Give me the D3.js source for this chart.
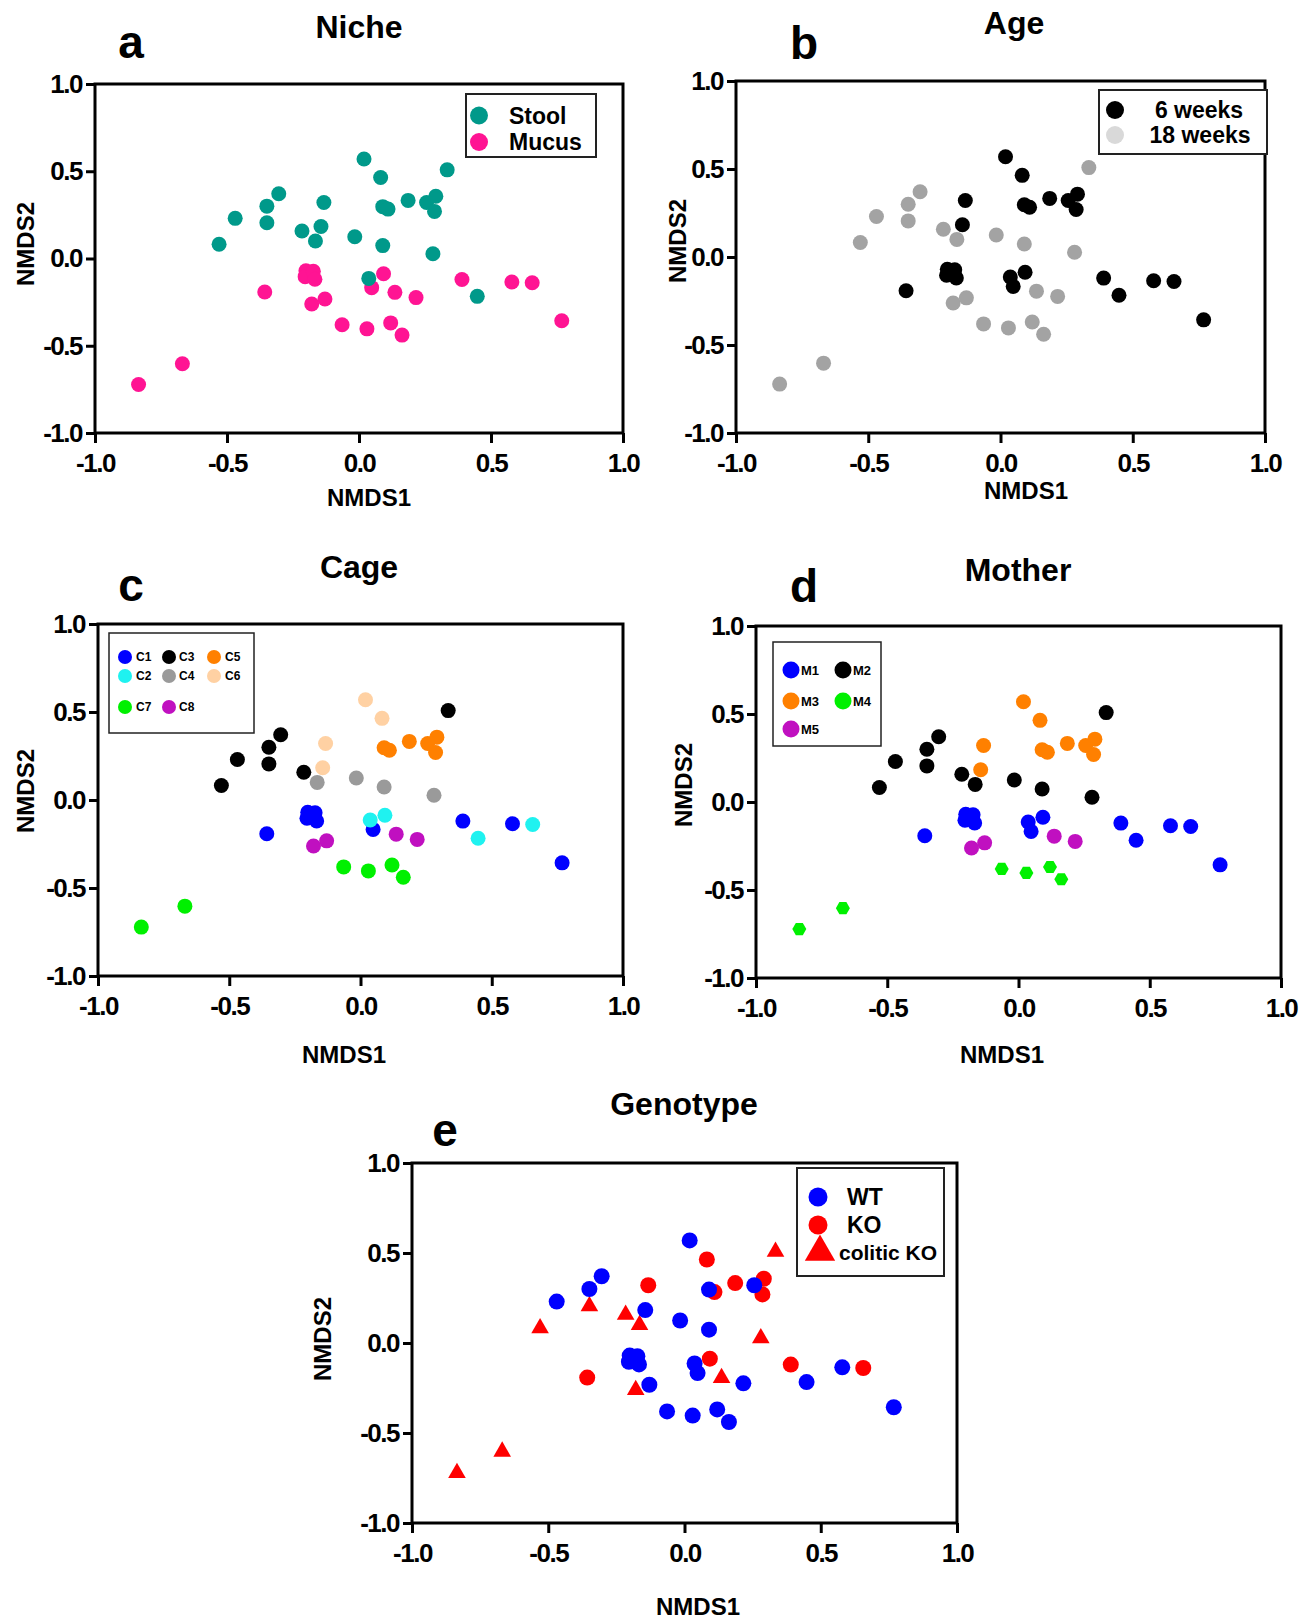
<!DOCTYPE html>
<html>
<head>
<meta charset="utf-8">
<script src="https://cdn.jsdelivr.net/npm/d3@7"></script>
<style>
  body { margin: 0; background: #fff; }
  text { font-family: "Liberation Sans", Arial, sans-serif; font-weight: bold; fill: #000; }
</style>
</head>
<body>
<svg id="fig" width="1316" height="1620"></svg>
<script>
// NMDS coordinates: 23 stool samples, then 21 mucus samples
var nmds1 = [-0.53, -0.469, -0.349, -0.349, -0.304, -0.216, -0.165, -0.144, -0.133, -0.016, 0.019, 0.082,
  0.09, 0.11, 0.09, 0.186, 0.256, 0.291, 0.286, 0.28, 0.334, 0.037, 0.448,
  -0.835, -0.669, -0.357, -0.201, -0.204, -0.173, -0.167, -0.179, -0.129, -0.064, 0.03, 0.048,
  0.093, 0.12, 0.136, 0.163, 0.216, 0.39, 0.579, 0.656, 0.768];
var nmds2 = [0.082, 0.23, 0.30, 0.205, 0.371, 0.158, 0.10, 0.183, 0.321, 0.125, 0.57, 0.464,
  0.297, 0.283, 0.074, 0.333, 0.321, 0.357, 0.27, 0.027, 0.508, -0.114, -0.217,
  -0.722, -0.603, -0.192, -0.07, -0.104, -0.073, -0.119, -0.261, -0.232, -0.38, -0.403, -0.167,
  -0.087, -0.369, -0.194, -0.439, -0.224, -0.12, -0.135, -0.139, -0.357];

var niche = ["Stool","Stool","Stool","Stool","Stool","Stool","Stool","Stool","Stool","Stool","Stool","Stool",
  "Stool","Stool","Stool","Stool","Stool","Stool","Stool","Stool","Stool","Stool","Stool",
  "Mucus","Mucus","Mucus","Mucus","Mucus","Mucus","Mucus","Mucus","Mucus","Mucus","Mucus","Mucus",
  "Mucus","Mucus","Mucus","Mucus","Mucus","Mucus","Mucus","Mucus","Mucus"];
var age = ["18 weeks","18 weeks","18 weeks","18 weeks","18 weeks","18 weeks","18 weeks","6 weeks","6 weeks","18 weeks","6 weeks","6 weeks",
  "6 weeks","6 weeks","18 weeks","6 weeks","6 weeks","6 weeks","6 weeks","18 weeks","18 weeks","6 weeks","6 weeks",
  "18 weeks","18 weeks","6 weeks","6 weeks","6 weeks","6 weeks","6 weeks","18 weeks","18 weeks","18 weeks","18 weeks","6 weeks",
  "6 weeks","18 weeks","18 weeks","18 weeks","18 weeks","6 weeks","6 weeks","6 weeks","6 weeks"];
var cage = ["C3","C3","C3","C3","C3","C3","C4","C6","C6","C4","C6","C6",
  "C5","C5","C4","C5","C5","C5","C5","C4","C3","C2","C2",
  "C7","C7","C1","C1","C1","C1","C1","C8","C8","C7","C7","C1",
  "C2","C7","C8","C7","C8","C1","C1","C2","C1"];
var mother = ["M2","M2","M2","M2","M2","M2","M2","M3","M3","M2","M3","M3",
  "M3","M3","M2","M3","M3","M3","M3","M2","M2","M1","M1",
  "M4","M4","M1","M1","M1","M1","M1","M5","M5","M4","M4","M1",
  "M1","M4","M5","M4","M5","M1","M1","M1","M1"];
var genotype = ["colitic KO","WT","WT","colitic KO","WT","colitic KO","colitic KO","WT","KO","WT","WT","KO",
  "WT","KO","WT","KO","WT","KO","KO","colitic KO","colitic KO","WT","WT",
  "colitic KO","colitic KO","KO","WT","WT","WT","WT","colitic KO","WT","WT","WT","WT",
  "KO","WT","colitic KO","WT","WT","KO","WT","KO","WT"];

var tickValues = [-1, -0.5, 0, 0.5, 1];
var tickLabels = ["-1.0", "-0.5", "0.0", "0.5", "1.0"];

var svg = d3.select("#fig");

function hexPath(r) {
  var pts = d3.range(6).map(function (k) {
    var a = Math.PI / 3 * k;
    return [r * Math.cos(a), r * Math.sin(a)];
  });
  return d3.line()(pts) + "Z";
}

function marker(g, shape, color, r) {
  if (shape === "triangle") {
    g.append("path").attr("d", d3.symbol(d3.symbolTriangle, r * r * 2.1)()).attr("fill", color);
  } else if (shape === "hexagon") {
    g.append("path").attr("d", hexPath(r)).attr("fill", color);
  } else {
    g.append("circle").attr("r", r).attr("fill", color);
  }
}

function panel(p) {
  var x = d3.scaleLinear().domain([-1, 1]).range([p.box[0], p.box[2]]);
  var y = d3.scaleLinear().domain([-1, 1]).range([p.box[3], p.box[1]]);

  svg.append("text").attr("x", p.title[1]).attr("y", p.title[2])
    .attr("text-anchor", "middle").style("font-size", "32px").text(p.title[0]);
  svg.append("text").attr("x", p.letter[1]).attr("y", p.letter[2])
    .attr("text-anchor", "middle").style("font-size", "46px").text(p.letter[0]);

  svg.append("rect")
    .attr("x", p.box[0]).attr("y", p.box[1])
    .attr("width", p.box[2] - p.box[0]).attr("height", p.box[3] - p.box[1])
    .attr("fill", "none").attr("stroke", "#000").attr("stroke-width", 3);

  var xAxis = d3.axisBottom(x).tickValues(tickValues).tickSize(10).tickPadding(11)
    .tickFormat(function (d, i) { return tickLabels[i]; });
  var yAxis = d3.axisLeft(y).tickValues(tickValues).tickSize(9).tickPadding(4)
    .tickFormat(function (d, i) { return tickLabels[i]; });

  var gx = svg.append("g").attr("transform", "translate(0," + p.box[3] + ")").call(xAxis);
  var gy = svg.append("g").attr("transform", "translate(" + p.box[0] + ",0)").call(yAxis);
  [gx, gy].forEach(function (g) {
    g.select(".domain").remove();
    g.selectAll(".tick line").attr("stroke", "#000").attr("stroke-width", 3);
    g.selectAll(".tick text").attr("fill", "#000")
      .style("font-size", "26px").style("font-family", "'Liberation Sans', Arial, sans-serif")
      .style("font-weight", "bold").style("letter-spacing", "-1.5px");
  });

  svg.append("text").attr("x", p.xTitle[0]).attr("y", p.xTitle[1]).attr("dy", "0.35em")
    .attr("text-anchor", "middle").style("font-size", "24px").text("NMDS1");
  svg.append("text").attr("transform", "translate(" + p.yTitle[0] + "," + p.yTitle[1] + ") rotate(-90)")
    .attr("dy", "0.35em").attr("text-anchor", "middle").style("font-size", "24px").text("NMDS2");

  // points, drawn series by series
  p.order.forEach(function (key) {
    d3.range(nmds1.length).forEach(function (i) {
      if (p.groups[i] !== key) return;
      var g = svg.append("g")
        .attr("transform", "translate(" + x(nmds1[i]) + "," + y(nmds2[i]) + ")");
      marker(g, p.shapes[key] || "circle", p.colors[key], p.shapes[key] === "hexagon" ? 7 : p.r);
    });
  });

  // legend
  var L = p.legend;
  svg.append("rect").attr("x", L.box[0]).attr("y", L.box[1])
    .attr("width", L.box[2] - L.box[0]).attr("height", L.box[3] - L.box[1])
    .attr("fill", "#fff").attr("stroke", L.stroke || "#222").attr("stroke-width", L.sw || 2);
  L.items.forEach(function (it) {
    var g = svg.append("g").attr("transform", "translate(" + it[1] + "," + it[2] + ")");
    var shape = p.shapes[it[0]] === "triangle" ? "triangle" : "circle";
    marker(g, shape, (L.colors && L.colors[it[0]]) || p.colors[it[0]], shape === "triangle" ? L.r * 1.45 : L.r);
    svg.append("text").attr("x", it[3]).attr("y", it[2]).attr("dy", "0.36em")
      .attr("text-anchor", L.anchor || "start")
      .style("font-size", (it[4] || L.fs) + "px").text(it[0]);
  });
}

panel({
  box: [95, 84, 623, 433], r: 7.5,
  title: ["Niche", 359, 38], letter: ["a", 131, 58],
  xTitle: [369, 498], yTitle: [26, 244],
  groups: niche, order: ["Mucus", "Stool"],
  colors: { "Stool": "#00998a", "Mucus": "#ff1493" }, shapes: {},
  legend: { box: [466, 94, 596, 157], r: 9, fs: 23,
    items: [["Stool", 479, 115.5, 509], ["Mucus", 479, 142, 509]] }
});

panel({
  box: [736, 81, 1265, 433], r: 7.5,
  title: ["Age", 1014, 34], letter: ["b", 804, 59],
  xTitle: [1026, 491], yTitle: [678, 241],
  groups: age, order: ["18 weeks", "6 weeks"],
  colors: { "6 weeks": "#000000", "18 weeks": "#a3a3a3" }, shapes: {},
  legend: { box: [1099, 90, 1267, 154], r: 9, fs: 23, anchor: "middle",
    colors: { "18 weeks": "#d9d9d9" },
    items: [["6 weeks", 1115, 110, 1199], ["18 weeks", 1115, 135, 1200]] }
});

panel({
  box: [98, 624, 623, 976], r: 7.5,
  title: ["Cage", 359, 578], letter: ["c", 131, 601],
  xTitle: [344, 1055], yTitle: [26, 791],
  groups: cage, order: ["C1", "C2", "C3", "C4", "C5", "C6", "C7", "C8"],
  colors: { "C1": "#0000ff", "C2": "#1ff2f0", "C3": "#000000", "C4": "#9a9a9a",
    "C5": "#ff8000", "C6": "#ffd1a3", "C7": "#00f000", "C8": "#c010c0" }, shapes: {},
  legend: { box: [109, 633, 254, 733], r: 7, fs: 12, sw: 1.5,
    items: [["C1", 125, 657, 136], ["C3", 169, 657, 179], ["C5", 214, 657, 225],
      ["C2", 125, 676, 136], ["C4", 169, 676, 179], ["C6", 214, 676, 225],
      ["C7", 125, 707, 136], ["C8", 169, 707, 179]] }
});

panel({
  box: [756, 626, 1281, 978], r: 7.5,
  title: ["Mother", 1018, 581], letter: ["d", 804, 602],
  xTitle: [1002, 1055], yTitle: [684, 785],
  groups: mother, order: ["M1", "M2", "M3", "M4", "M5"],
  colors: { "M1": "#0000ff", "M2": "#000000", "M3": "#ff8000", "M4": "#00f000", "M5": "#c010c0" },
  shapes: { "M4": "hexagon" },
  legend: { box: [773, 642, 881, 746], r: 8.5, fs: 13, sw: 1.5,
    items: [["M1", 791, 670, 801], ["M2", 843, 670, 853],
      ["M3", 791, 701, 801], ["M4", 843, 701, 853], ["M5", 791, 729, 801]] }
});

panel({
  box: [412, 1163, 957, 1523], r: 8,
  title: ["Genotype", 684, 1115], letter: ["e", 445, 1146],
  xTitle: [698, 1607], yTitle: [323, 1339],
  groups: genotype, order: ["KO", "colitic KO", "WT"],
  colors: { "WT": "#0000ff", "KO": "#ff0000", "colitic KO": "#ff0000" },
  shapes: { "colitic KO": "triangle" },
  legend: { box: [797, 1168, 944, 1276], r: 9.5, fs: 23,
    items: [["WT", 818, 1197, 847], ["KO", 818, 1225, 847], ["colitic KO", 820, 1252, 839, 21]] }
});
</script>
</body>
</html>
